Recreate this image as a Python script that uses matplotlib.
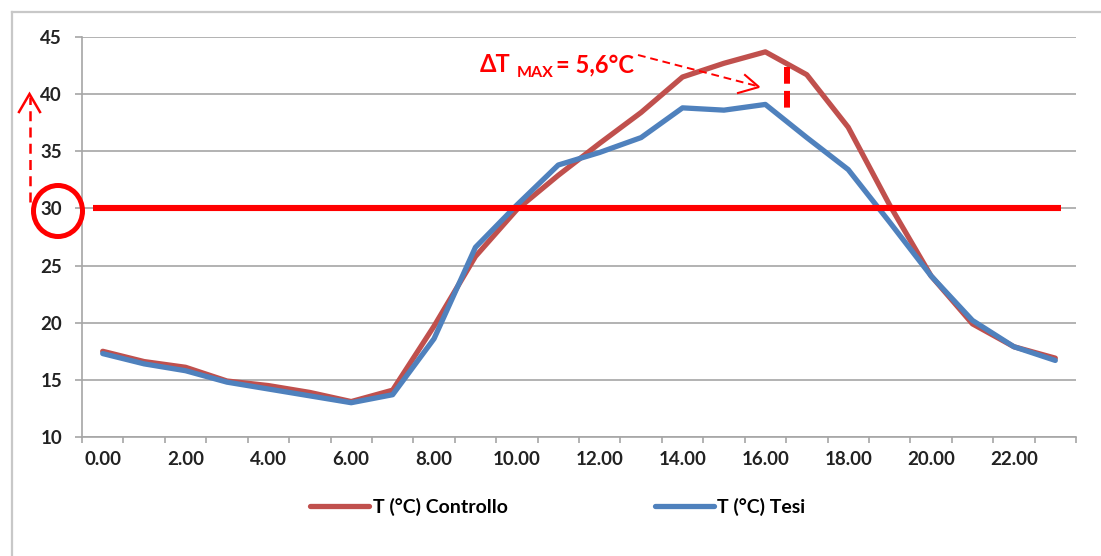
import matplotlib
matplotlib.use("Agg")
import matplotlib.pyplot as plt
from matplotlib.lines import Line2D
from matplotlib.patches import Ellipse

hours = list(range(24))
tick_labels = ["0.00", "2.00", "4.00", "6.00", "8.00", "10.00",
               "12.00", "14.00", "16.00", "18.00", "20.00", "22.00"]
controllo = [17.5, 16.6, 16.1, 14.9, 14.5, 13.9, 13.1, 14.1, 19.7, 25.8, 29.9, 32.9,
             35.7, 38.4, 41.5, 42.7, 43.7, 41.7, 37.1, 30.3, 24.1, 19.9, 17.9, 16.9]
tesi = [17.3, 16.4, 15.8, 14.8, 14.2, 13.6, 13.0, 13.7, 18.6, 26.6, 30.3, 33.8,
        34.9, 36.2, 38.8, 38.6, 39.1, 36.2, 33.4, 28.8, 24.1, 20.2, 17.9, 16.7]
threshold = 30
series_names = ["T (°C) Controllo", "T (°C) Tesi"]
annotation = ["ΔT", "MAX", "= 5,6°C"]

FONT = "Lato"
RED = "#C0504D"
BLUE = "#4F81BD"
GRID = "#A6A6A6"
PURE = "#FF0000"

W, H = 1101, 556
fig = plt.figure(figsize=(W / 100, H / 100), dpi=100)
fig.patch.set_facecolor("white")
ax = fig.add_axes([82 / W, 1 - 437 / H, (1076 - 82) / W, (437 - 37) / H])

ax.plot(hours, controllo, color=RED, lw=3.8, solid_capstyle="round", zorder=3)
ax.plot(hours, tesi, color=BLUE, lw=3.8, solid_capstyle="round", zorder=4)
ax.plot([-0.23, 23.14], [threshold, threshold], color=PURE, lw=4.4,
        solid_capstyle="butt", zorder=5)

ax.set_xlim(-0.5, 23.5)
ax.set_ylim(10, 45)
ax.set_yticks(range(10, 46, 5))
ax.yaxis.grid(True, color=GRID, lw=1.2)
ax.set_axisbelow(True)
ax.set_xticks(range(0, 24, 2))
ax.set_xticklabels(tick_labels)
ax.set_xticks([i - 0.5 for i in range(25)], minor=True)
ax.tick_params(axis="x", which="major", length=0, pad=10)
ax.tick_params(axis="x", which="minor", length=4.5, color=GRID, width=1.2)
ax.tick_params(axis="y", length=5, color=GRID, width=1.2, pad=9.4)
for lab in ax.get_xticklabels() + ax.get_yticklabels():
    lab.set_fontfamily(FONT)
    lab.set_fontweight("bold")
    lab.set_fontsize(13.5)
    lab.set_color("#222222")
for s in ["top", "right"]:
    ax.spines[s].set_visible(False)
for s in ["left", "bottom"]:
    ax.spines[s].set_color(GRID)
    ax.spines[s].set_linewidth(1.2)

# annotation text
ax.text(9.11, 41.9, annotation[0], color=PURE, fontsize=17, fontweight="bold",
        family=FONT, ha="left", va="baseline")
ax.text(10.0, 41.5, annotation[1], color=PURE, fontsize=11.5, fontweight="bold",
        family=FONT, ha="left", va="baseline")
ax.text(10.95, 41.9, annotation[2], color=PURE, fontsize=17, fontweight="bold",
        family=FONT, ha="left", va="baseline")
ax.plot([16.52, 16.52], [42.4, 38.4], color=PURE, lw=4.3,
        ls=(0, (2.8, 1.2)), zorder=6)


def fig_line(xs, ys, **kw):
    fig.add_artist(Line2D(xs, [H - y for y in ys], transform=None, **kw))


# diagonal dashed arrow (figure pixels, y from top)
fig_line([638, 757], [55, 86], color=PURE, lw=1.4, ls=(0, (4, 2.5)))
fig_line([745, 759, 738], [75, 87, 93], color=PURE, lw=1.5, solid_joinstyle="miter")

# circle around 30 and dashed up arrow
fig.patches.append(Ellipse((58, H - 211), 49, 51, transform=None, fill=False,
                           ec=PURE, lw=3.6, zorder=10))
fig_line([30, 30], [202, 97], color=PURE, lw=1.8, ls=(0, (4, 2.5)))
fig_line([19, 29.5, 40], [112, 94, 112], color=PURE, lw=1.8, solid_joinstyle="miter")

# border
fig_line([12, 12], [H, 12], color="#C8C8C8", lw=1.6)
fig_line([12, W], [12, 12], color="#C8C8C8", lw=1.6)

handles = [Line2D([], [], color=RED, lw=3.8, solid_capstyle="round"),
           Line2D([], [], color=BLUE, lw=3.8, solid_capstyle="round")]
fig.legend(handles, series_names, loc="center", bbox_to_anchor=(558 / W, 1 - 507 / H),
           ncol=2, frameon=False, handlelength=3.0, handletextpad=0.2,
           columnspacing=7.6, prop=dict(family=FONT, weight="bold", size=14))

fig.savefig("out.png", dpi=100, facecolor="white")
